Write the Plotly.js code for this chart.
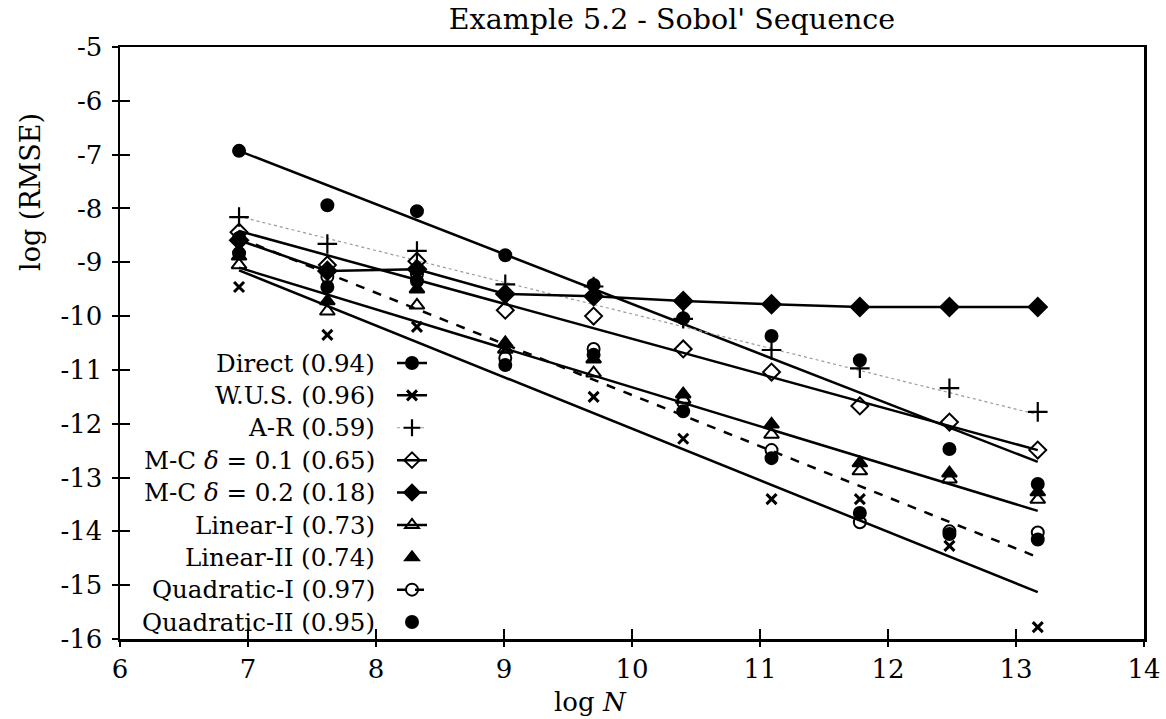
<!DOCTYPE html>
<html>
<head>
<meta charset="utf-8">
<script src="https://cdn.plot.ly/plotly-3.0.1.min.js"></script>
<style>html,body{margin:0;padding:0;background:#fff;}#chart{width:1166px;height:719px;}</style>
</head>
<body>
<div id="chart"></div>
<script>
// ---- data ----
const logN = [6.93, 7.62, 8.32, 9.01, 9.70, 10.40, 11.09, 11.78, 12.48, 13.17];

const direct = [-6.93, -7.94, -8.05, -8.87, -9.42, -10.04, -10.37, -10.82, -12.47, -13.12];
const wus    = [-9.46, -10.35, -10.20, -10.60, -11.50, -12.28, -13.40, -13.40, -14.27, -15.78];
const ar     = [-8.16, -8.66, -8.79, -9.41, -9.45, -10.05, -10.63, -10.97, -11.34, -11.78];
const mc01   = [-8.44, -9.05, -8.98, -9.89, -10.00, -10.61, -11.04, -11.67, -11.97, -12.49];
const mc02   = [-8.59, -9.16, -9.13, -9.59, -9.63, -9.72, -9.78, -9.83, -9.83, -9.83];
const lin1   = [-9.05, -9.91, -9.80, -10.62, -11.06, -11.55, -12.20, -12.88, -13.03, -13.41];
const lin2   = [-8.89, -9.72, -9.50, -10.50, -10.80, -11.45, -12.01, -12.73, -12.92, -13.27];
const quad1  = [-8.55, -9.27, -9.22, -10.78, -10.61, -11.60, -12.49, -13.83, -14.00, -14.02];
const quad2  = [-8.83, -9.46, -9.35, -10.91, -10.72, -11.77, -12.64, -13.66, -14.05, -14.15];

// fitted lines (values at first and last log N)
const fitX      = [6.93, 13.17];
const directFit = [-6.93, -12.71];
const wusFit    = [-9.15, -15.13];
const arFit     = [-8.15, -11.83];
const mc01Fit   = [-8.42, -12.49];
const lin1Fit   = [-9.10, -13.62];
const quad1Fit  = [-8.55, -14.48];

const legendLabels = ['Direct (0.94)', 'W.U.S. (0.96)', 'A-R (0.59)',
  'M-C <i>δ</i> = 0.1 (0.65)', 'M-C <i>δ</i> = 0.2 (0.18)', 'Linear-I (0.73)',
  'Linear-II (0.74)', 'Quadratic-I (0.97)', 'Quadratic-II (0.95)'];

const xTickVals = [6, 7, 8, 9, 10, 11, 12, 13, 14];
const xTickText = ['6', '7', '8', '9', '10', '11', '12', '13', '14'];
const yTickVals = [-16, -15, -14, -13, -12, -11, -10, -9, -8, -7, -6, -5];
const yTickText = ['-16', '-15', '-14', '-13', '-12', '-11', '-10', '-9', '-8', '-7', '-6', '-5'];

// ---- styles ----
const K = '#000';
const FONT = 'DejaVu Serif, Liberation Serif, serif';
const series = [
  {y: direct, fit: directFit, sym: 'circle',            size: 12, mw: 2,   dash: 'solid', lw: 2.5},
  {y: wus,    fit: wusFit,    sym: 'x-thin-open',       size: 10, mw: 3,   dash: 'solid', lw: 2.5},
  {y: ar,     fit: arFit,     sym: 'cross-thin-open',   size: 14, mw: 2.2, dash: 'dot',   lw: 1.2, lc: '#9a9a9a'},
  {y: mc01,   fit: mc01Fit,   sym: 'diamond-open',      size: 13, mw: 2,   dash: 'solid', lw: 2.5},
  {y: mc02,   fit: null,      sym: 'diamond',           size: 14, mw: 2,   dash: 'solid', lw: 2.5, connect: true},
  {y: lin1,   fit: lin1Fit,   sym: 'triangle-up-open',  size: 13, mw: 2,   dash: 'solid', lw: 2.5},
  {y: lin2,   fit: null,      sym: 'triangle-up',       size: 13, mw: 2,   dash: null},
  {y: quad1,  fit: quad1Fit,  sym: 'circle-open',       size: 12, mw: 2,   dash: 'dash',  lw: 2.5},
  {y: quad2,  fit: null,      sym: 'circle',            size: 12, mw: 2,   dash: null}
];

const traces = [];
series.forEach(function (s) {
  if (s.fit) {
    traces.push({x: fitX, y: s.fit, mode: 'lines', showlegend: false, hoverinfo: 'skip',
      line: {color: s.lc || K, width: s.lw, dash: s.dash}});
  }
  const mk = {symbol: s.sym, size: s.size, color: K, line: {color: K, width: s.mw}};
  traces.push({x: logN, y: s.y, mode: s.connect ? 'lines+markers' : 'markers', showlegend: false,
    marker: mk, line: {color: K, width: s.lw || 2}});
});
// legend-only entries (no data), drawn on overlay axes
series.forEach(function (s) {
  const mk = {symbol: s.sym, size: Math.min(s.size, 12), color: K, line: {color: K, width: s.mw}};
  traces.push({x: [null], y: [null], xaxis: 'x2', yaxis: 'y2', name: '\u00a0',
    mode: s.dash ? 'lines+markers' : 'markers', showlegend: true, marker: mk,
    line: {color: s.lc || K, width: s.dash ? (s.lw || 2) : 0, dash: s.dash || 'solid'}});
});

const plotTop = 47, plotBottom = 639, plotLeft = 120, plotRight = 1144;
const H = plotBottom - plotTop, W = plotRight - plotLeft;
const rowStart = 363, rowStep = 32.4;
const annotations = legendLabels.map(function (t, i) {
  return {text: t, xref: 'paper', yref: 'paper', x: (377 - plotLeft) / W,
    y: (plotBottom - (rowStart + i * rowStep)) / H, xanchor: 'right', yanchor: 'middle',
    showarrow: false, font: {family: FONT, size: 24.5, color: K}};
});
annotations.push({text: 'log (RMSE)', textangle: -90, xref: 'paper', yref: 'paper',
  x: (30 - plotLeft) / W, y: (plotBottom - 192) / H, xanchor: 'center', yanchor: 'middle',
  showarrow: false, font: {family: FONT, size: 27, color: K}});
annotations.push({text: 'log <i>N</i>', xref: 'paper', yref: 'paper',
  x: (590 - plotLeft) / W, y: (plotBottom - 702) / H, xanchor: 'center', yanchor: 'middle',
  showarrow: false, font: {family: FONT, size: 26, color: K}});

const layout = {
  width: 1166, height: 719,
  margin: {l: plotLeft, r: 1166 - plotRight, t: plotTop, b: 719 - plotBottom},
  paper_bgcolor: '#fff', plot_bgcolor: '#fff',
  font: {family: FONT, color: K},
  title: {text: "Example 5.2 - Sobol' Sequence", x: 672 / 1166, xanchor: 'center',
    y: 1 - 19 / 719, yanchor: 'middle', font: {family: FONT, size: 28.5, color: K}},
  xaxis: {range: [6, 14], tickvals: xTickVals, ticktext: xTickText, ticks: 'inside', ticklen: 10,
    tickwidth: 2, tickcolor: K, showline: true, linewidth: 2.5, linecolor: K, mirror: true,
    showgrid: false, zeroline: false, ticklabelstandoff: 5,
    tickfont: {family: FONT, size: 26, color: K}},
  yaxis: {range: [-16, -5], tickvals: yTickVals, ticktext: yTickText, ticks: 'inside', ticklen: 10,
    tickwidth: 2, tickcolor: K, showline: true, linewidth: 2.5, linecolor: K, mirror: true,
    showgrid: false, zeroline: false, ticklabelstandoff: 10,
    tickfont: {family: FONT, size: 26, color: K}},
  xaxis2: {range: [6, 14], overlaying: 'x', anchor: 'free', position: 0, side: 'bottom',
    tickvals: xTickVals, ticks: 'outside', ticklen: 7, tickwidth: 2, tickcolor: K,
    showticklabels: false, showline: false, showgrid: false, zeroline: false},
  yaxis2: {range: [-16, -5], overlaying: 'y', anchor: 'free', position: 0, side: 'left',
    tickvals: yTickVals, ticks: 'outside', ticklen: 8, tickwidth: 2, tickcolor: K,
    showticklabels: false, showline: false, showgrid: false, zeroline: false},
  legend: {x: (392 - plotLeft) / W, xanchor: 'left', y: (plotBottom - 341.8) / H, yanchor: 'top',
    bgcolor: 'rgba(0,0,0,0)', borderwidth: 0, tracegroupgap: 0,
    font: {family: FONT, size: 22.6, color: K}},
  annotations: annotations,
  showlegend: true
};

Plotly.newPlot('chart', traces, layout, {displayModeBar: false, staticPlot: true});
</script>
</body>
</html>
